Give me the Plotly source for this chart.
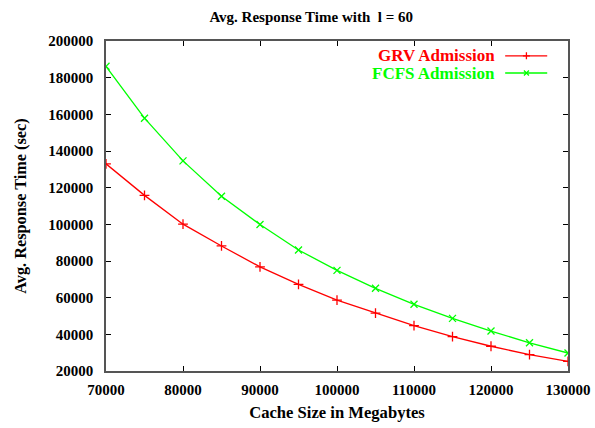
import plotly.graph_objects as go

FONT = "Liberation Serif"
RED = "#ff0000"
GREEN = "#00ff00"
AXIS = "#555555"

cache_mb = [70000, 75000, 80000, 85000, 90000, 95000, 100000,
            105000, 110000, 115000, 120000, 125000, 130000]
grv_time = [133000, 115800, 100100, 88200, 76800, 67300, 58700,
            51600, 44700, 38800, 33500, 28900, 25200]
fcfs_time = [186200, 157900, 134600, 115300, 99900, 86000, 74900,
             65100, 56400, 48700, 41800, 35400, 29800]

fig = go.Figure()
fig.add_trace(go.Scatter(
    x=cache_mb, y=grv_time, name="GRV Admission", mode="lines+markers",
    line=dict(color=RED, width=1.3),
    marker=dict(symbol="cross-thin", size=7, line=dict(color=RED, width=1.3)),
))
fig.add_trace(go.Scatter(
    x=cache_mb, y=fcfs_time, name="FCFS Admission", mode="lines+markers",
    line=dict(color=GREEN, width=1.3),
    marker=dict(symbol="x-thin", size=7, line=dict(color=GREEN, width=1.3)),
))

# gnuplot-style key: text right-aligned, sample line to its right
legend_rows = [("GRV Admission", RED, 0.955), ("FCFS Admission", GREEN, 0.903)]
for label, color, yy in legend_rows:
    fig.add_annotation(x=0.846, y=yy, xref="paper", yref="paper", text=f"<b>{label}</b>",
                       showarrow=False, xanchor="right", yanchor="middle",
                       font=dict(family=FONT, size=17, color=color))
    fig.add_shape(type="line", xref="paper", yref="paper", x0=0.864, x1=0.955,
                  y0=yy, y1=yy, line=dict(color=color, width=1.3))

fig.add_trace(go.Scatter(
    x=[0.91, 0.91], y=[0.955, 0.903], xaxis="x2", yaxis="y2", mode="markers",
    marker=dict(symbol=["cross-thin", "x-thin"], size=5,
                line=dict(color=[RED, GREEN], width=1.3)),
    hoverinfo="skip", showlegend=False,
))

tickfont = dict(family=FONT, size=15, weight="bold")
fig.update_layout(
    width=595, height=428,
    margin=dict(l=106, r=27, t=41, b=57),
    paper_bgcolor="white", plot_bgcolor="white",
    showlegend=False,
    font=dict(family=FONT, size=14, color="black"),
    title=dict(text="<b>Avg. Response Time with  l = 60</b>", x=0.523, xanchor="center",
               y=0.96, yanchor="middle", font=dict(family=FONT, size=15)),
    xaxis=dict(range=[70000, 130000], dtick=10000, tickformat="d", automargin=False,
               title=dict(text="<b>Cache Size in Megabytes</b>", standoff=10,
                          font=dict(family=FONT, size=16.6)),
               showgrid=False, zeroline=False, showline=True, mirror="ticks",
               linecolor=AXIS, linewidth=1.5, ticks="inside", ticklen=5,
               tickcolor="black", tickfont=tickfont, ticklabelstandoff=4,
               ticklabeloverflow="allow"),
    yaxis=dict(range=[20000, 200000], dtick=20000, tickformat="d", automargin=False,
               title=dict(text="<b>Avg. Response Time (sec)</b>", standoff=18,
                          font=dict(family=FONT, size=16.3)),
               showgrid=False, zeroline=False, showline=True, mirror="ticks",
               linecolor=AXIS, linewidth=1.5, ticks="inside", ticklen=5,
               tickcolor="black", tickfont=tickfont, ticklabelstandoff=8),
    xaxis2=dict(range=[0, 1], domain=[0, 1], overlaying="x", visible=False, fixedrange=True),
    yaxis2=dict(range=[0, 1], domain=[0, 1], overlaying="y", visible=False, fixedrange=True),
)

# drop the browser's default 8px body margin so the figure fills the window
fig.write_html("out.html", config={"displayModeBar": False},
               post_script="document.body.style.margin='0';")
